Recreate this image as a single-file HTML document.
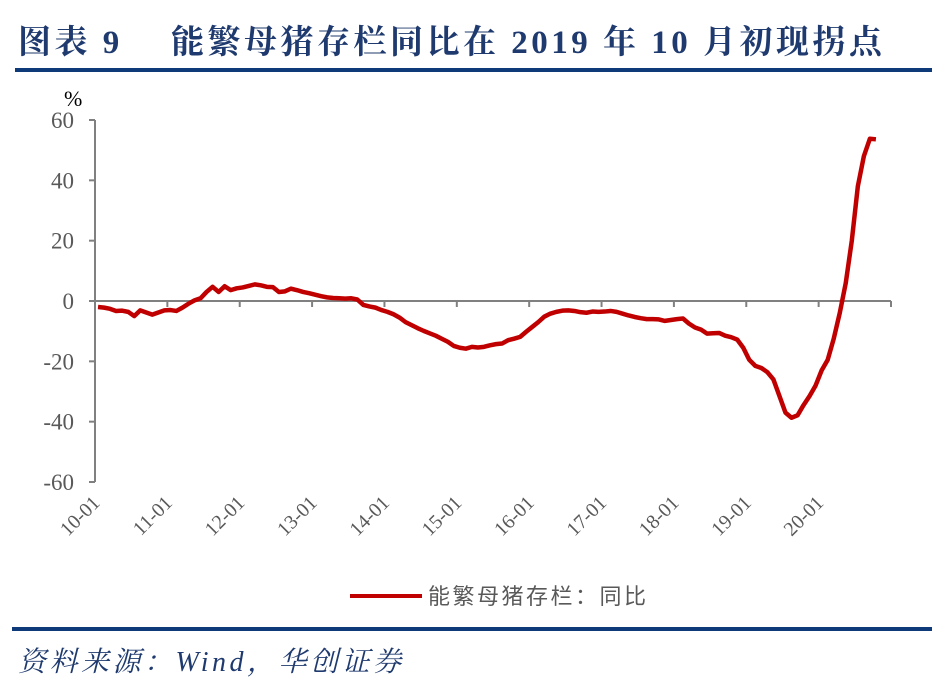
<!DOCTYPE html>
<html><head><meta charset="utf-8"><style>
body{margin:0;background:#fff;width:947px;height:700px;overflow:hidden;position:relative}
.t{position:absolute;font-family:"Liberation Serif","Noto Serif CJK SC",serif}
</style></head><body>
<div class="t" style="left:18px;top:16px;font-size:33px;font-weight:bold;color:#1F3A6E;white-space:nowrap;letter-spacing:3.5px">图表 9　 能繁母猪存栏同比在 2019 年 10 月初现拐点</div>
<div style="position:absolute;left:15px;top:68px;width:917px;height:4px;background:#0E3A7A"></div>
<svg id="chart" width="947" height="700" style="position:absolute;left:0;top:0"></svg>
<div style="position:absolute;left:12px;top:627px;width:920px;height:4px;background:#0E3A7A"></div>
<div class="t" style="left:18px;top:640px;font-size:28px;font-style:italic;color:#1F3A6E;white-space:nowrap;letter-spacing:3.5px;font-family:'Liberation Serif','Noto Serif CJK SC',serif">资料来源：Wind，华创证券</div>
<script>
const yTicks=[60,40,20,0,-20,-40,-60];
const xLabels=["10-01","11-01","12-01","13-01","14-01","15-01","16-01","17-01","18-01","19-01","20-01"];
const values=[-2.0,-2.2,-2.6,-3.3,-3.2,-3.6,-5.0,-3.1,-3.8,-4.5,-3.8,-3.1,
-3.0,-3.3,-2.2,-0.9,0.2,0.9,3.0,4.7,3.0,4.9,3.6,4.2,
4.5,5.0,5.5,5.2,4.7,4.6,3.0,3.2,4.1,3.6,3.0,2.6,
2.1,1.6,1.2,1.0,0.9,0.8,0.9,0.5,-1.3,-1.8,-2.2,-3.0,
-3.6,-4.4,-5.5,-7.0,-8.0,-9.0,-9.9,-10.7,-11.5,-12.5,-13.5,-14.9,
-15.5,-15.8,-15.2,-15.4,-15.2,-14.7,-14.3,-14.1,-13.0,-12.5,-11.9,-10.2,
-8.6,-7.0,-5.2,-4.2,-3.6,-3.2,-3.1,-3.3,-3.7,-3.9,-3.5,-3.6,
-3.5,-3.3,-3.6,-4.2,-4.8,-5.3,-5.7,-6.0,-6.0,-6.1,-6.6,-6.3,
-6.0,-5.8,-7.5,-8.8,-9.5,-10.8,-10.7,-10.6,-11.5,-12.0,-12.8,-15.5,
-19.5,-21.5,-22.2,-23.6,-26.0,-31.5,-37.0,-38.7,-37.9,-34.5,-31.5,-28.0,
-23.0,-19.5,-12.5,-4.0,6.0,20.0,38.0,48.0,53.8,53.6];
const svg=document.getElementById('chart');
const NS='http://www.w3.org/2000/svg';
const X0=95,X1=891,NC=132,Y60=120,Ym60=482;
const y=v=>Y60+(60-v)*(Ym60-Y60)/120;
const xc=i=>X0+(i+0.5)*(X1-X0)/NC;
const xb=i=>X0+i*(X1-X0)/NC;
function mk(t,a){const e=document.createElementNS(NS,t);for(const k in a)e.setAttribute(k,a[k]);svg.appendChild(e);return e;}
let ax=mk('line',{x1:X0,y1:Y60,x2:X0,y2:Ym60,stroke:'#808080','stroke-width':2});


yTicks.forEach(v=>{
 let tk=mk('line',{x1:X0-6,y1:y(v),x2:X0,y2:y(v),stroke:'#808080','stroke-width':2});
 
 
 let t=mk('text',{x:X0-21,y:y(v)+8,'text-anchor':'end','font-size':23,fill:'#595959','font-family':'Liberation Serif,serif'});
 t.textContent=v;
 
 
});
let pc=mk('text',{x:64,y:106,'font-size':22,fill:'#000','font-family':'Liberation Serif,serif'});
pc.textContent='%';


let xa=mk('line',{x1:X0,y1:y(0),x2:X1,y2:y(0),stroke:'#808080','stroke-width':2});


for(let k=1;k<=11;k++){
 let tk=mk('line',{x1:xb(k*12),y1:y(0),x2:xb(k*12),y2:y(0)+6,stroke:'#808080','stroke-width':2});
 
 
}
xLabels.forEach((l,k)=>{
 const px=xb(k*12)+6,py=504;
 let t=mk('text',{x:px,y:py,'text-anchor':'end','font-size':20,fill:'#595959','font-family':'Liberation Serif,serif',transform:`rotate(-45 ${px} ${py})`});
 t.textContent=l;
 
 
});
let p=mk('polyline',{points:values.map((v,i)=>xc(i)+','+y(v)).join(' '),fill:'none',stroke:'#C00000','stroke-width':4.5,'stroke-linejoin':'round'});


let ll=mk('line',{x1:350,y1:596,x2:422,y2:596,stroke:'#C00000','stroke-width':4});


let lt=mk('text',{x:428,y:604,'font-size':22,fill:'#595959','letter-spacing':'2.5','font-family':'Liberation Sans,Noto Sans CJK SC,sans-serif'});
lt.textContent='能繁母猪存栏：同比';


</script>
</body></html>
